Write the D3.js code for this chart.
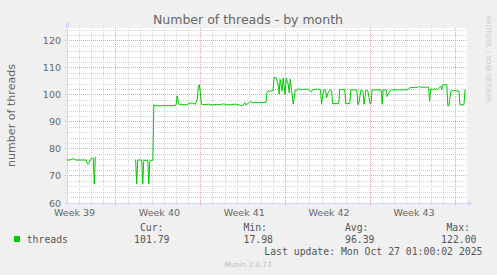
<!DOCTYPE html>
<html>
<head>
<meta charset="utf-8">
<script src="https://cdn.jsdelivr.net/npm/d3@7"></script>
<style>
  html, body { margin: 0; padding: 0; background: #f0f0f0; }
  svg { display: block; }
</style>
</head>
<body>
<div id="chart"></div>
<script>
// munin "threads" graph, month view (2h averages)
const title = "Number of threads - by month";
const yLabel = "number of threads";
const seriesName = "threads";
const startTime = "2025-09-23T23:00:00Z";
const endTime = "2025-10-26T23:00:00Z";

// hours since startTime, and the value (null = no data)
const hours = [
  0, 8, 10, 14, 18, 38, 40, 42, 44, 46, 48, 52, 54, 56, 58, 60,
  134, 136, 138, 140, 148, 150, 152, 160, 162, 164, 170, 172, 176, 180, 184, 188,
  194, 200, 206, 212, 216, 218, 222, 226, 232, 238, 244, 248, 254, 258, 260, 262,
  264, 266, 272, 280, 288, 296, 302, 310, 318, 326, 334, 342, 346, 350, 352, 354,
  358, 364, 368, 374, 382, 390, 394, 396, 398, 402, 406, 408, 410, 414, 418, 420,
  422, 426, 428, 432, 434, 438, 440, 442, 448, 452, 456, 458, 464, 466, 476, 484,
  486, 496, 502, 504, 508, 512, 514, 518, 522, 524, 526, 538, 540, 550, 552, 560,
  562, 574, 576, 578, 582, 586, 588, 592, 596, 598, 600, 602, 604, 622, 624, 626,
  632, 634, 636, 640, 642, 674, 676, 680, 688, 694, 696, 700, 716, 718, 720, 724,
  730, 734, 738, 740, 742, 744, 752, 754, 756, 760, 768, 776, 778, 786, 788, 790
];
const threads = [
  75.9, 76.0, 76.4, 76.2, 75.9, 75.9, 74.7, 74.3, 74.8, 76.0, 76.5, 76.6, 67.0, 76.9, 77.0, null,
  75.9, 75.9, 67.0, 75.9, 75.9, 67.0, 75.8, 75.8, 67.0, 75.6, 75.8, 96.4, 95.9, 96.2, 95.8, 96.1,
  96.0, 96.1, 96.0, 96.1, 96.3, 99.7, 96.4, 96.6, 96.3, 96.5, 97.0, 97.0, 96.6, 98.5, 103.0, 103.8,
  101.0, 96.6, 96.4, 96.6, 96.3, 96.5, 96.4, 96.7, 96.3, 96.5, 96.6, 96.3, 96.0, 96.5, 97.2, 96.4,
  96.8, 97.6, 97.1, 97.3, 97.2, 97.2, 97.3, 101.0, 101.5, 101.3, 101.7, 101.5, 106.5, 106.3, 104.0, 100.4,
  105.8, 101.5, 106.3, 100.0, 106.3, 104.0, 100.8, 105.9, 96.7, 101.9, 101.7, 102.3, 101.9, 102.0, 102.2, 101.2,
  101.9, 102.2, 101.9, 96.6, 101.9, 101.9, 99.0, 101.4, 101.9, 101.4, 96.8, 96.8, 102.0, 102.0, 96.8, 96.8,
  101.9, 101.9, 96.4, 97.0, 101.9, 101.4, 96.6, 101.9, 101.4, 99.0, 96.8, 96.8, 101.9, 101.9, 96.6, 101.9,
  101.9, 99.4, 100.3, 101.5, 101.9, 101.9, 102.4, 102.7, 102.8, 102.8, 103.1, 102.9, 102.9, 97.7, 102.2, 102.0,
  102.3, 102.0, 102.9, 103.2, 102.0, 103.8, 103.8, 96.0, 96.0, 101.4, 101.6, 101.4, 96.4, 96.4, 101.8, 101.8
];

const yTicks = [60, 70, 80, 90, 100, 110, 120];
const statLabels = ["Cur:", "Min:", "Avg:", "Max:"];
const statValues = ["101.79", "17.98", "96.39", "122.00"];
const lastUpdate = "Last update: Mon Oct 27 01:00:02 2025";
const footer = "Munin 2.0.73";
const watermark = "RRDTOOL / TOBI OETIKER";

const W = 497, H = 275;
const plot = { left: 67, right: 467, top: 28, bottom: 203 };
const green = "#00cc00";
const axisCol = "#cfd6f8";
const fontCol = "#666666";
const sans = "'DejaVu Sans', sans-serif";
const mono = "'DejaVu Sans Mono', monospace";

const t0 = new Date(startTime);
const data = hours.map((h, i) => ({ t: new Date(t0.getTime() + h * 3600e3), v: threads[i] }));

const x = d3.scaleUtc().domain([t0, new Date(endTime)]).range([plot.left, plot.right]);
const y = d3.scaleLinear().domain([60, 124.8]).range([plot.bottom, plot.top]);
const px = v => Math.floor(v) + 0.5;

const svg = d3.select("#chart").append("svg")
  .attr("width", W).attr("height", H)
  .style("background", "#f0f0f0");

svg.append("rect")
  .attr("x", plot.left).attr("y", plot.top)
  .attr("width", plot.right - plot.left).attr("height", plot.bottom - plot.top)
  .attr("fill", "#ffffff");

// grid, dotted 1 on 1 off like rrdtool
const grid = svg.append("g").attr("stroke-dasharray", "1,1").attr("stroke-width", 1);
const minorY = d3.range(62, 125, 2).filter(v => v % 10 !== 0);
const days = d3.utcDay.range(x.domain()[0], x.domain()[1]).filter(d => d.getUTCDay() !== 0);
const sundays = d3.utcSunday.range(x.domain()[0], x.domain()[1]);

grid.append("g").attr("stroke", "#d4d4d4")
  .selectAll("line").data(minorY).join("line")
  .attr("x1", plot.left - 2).attr("x2", plot.right)
  .attr("y1", d => px(y(d))).attr("y2", d => px(y(d)));
grid.append("g").attr("stroke", "#d4d4d4")
  .selectAll("line").data(days).join("line")
  .attr("x1", d => px(x(d))).attr("x2", d => px(x(d)))
  .attr("y1", plot.top).attr("y2", plot.bottom + 2);
grid.append("g").attr("stroke", "#eba0a0")
  .selectAll("line").data(yTicks).join("line")
  .attr("x1", plot.left - 2).attr("x2", plot.right)
  .attr("y1", d => px(y(d))).attr("y2", d => px(y(d)));
grid.append("g").attr("stroke", "#eba0a0")
  .selectAll("line").data(sundays).join("line")
  .attr("x1", d => px(x(d))).attr("x2", d => px(x(d)))
  .attr("y1", plot.top).attr("y2", plot.bottom + 2);

// y labels
svg.append("g").selectAll("text").data(yTicks).join("text")
  .attr("x", 61).attr("y", d => y(d) + 3.5)
  .attr("text-anchor", "end")
  .attr("font-family", sans).attr("font-size", 9.5).attr("fill", fontCol)
  .text(d => d);

// x labels: "Week N" centred in the middle of each week
const weekFmt = d3.utcFormat("%V");
const labelWeeks = d3.utcSunday.range(d3.utcSunday.offset(x.domain()[0], -1), x.domain()[1])
  .map(d => d3.utcHour.offset(d, 84))
  .filter(d => d >= x.domain()[0] && d <= x.domain()[1]);
svg.append("g").selectAll("text").data(labelWeeks).join("text")
  .attr("x", d => x(d) + 1).attr("y", 215.7)
  .attr("text-anchor", "middle")
  .attr("font-family", sans).attr("font-size", 9.5).attr("fill", fontCol)
  .text(d => "Week " + weekFmt(d));

// axes + arrows
svg.append("line")
  .attr("x1", plot.left + 0.5).attr("x2", plot.left + 0.5)
  .attr("y1", plot.bottom + 2).attr("y2", 25)
  .attr("stroke", axisCol);
svg.append("line")
  .attr("x1", plot.left - 2).attr("x2", 470)
  .attr("y1", plot.bottom + 0.5).attr("y2", plot.bottom + 0.5)
  .attr("stroke", axisCol);
svg.append("path")
  .attr("d", `M${plot.left - 2},27 L${plot.left + 0.5},21.5 L${plot.left + 3},27 Z`)
  .attr("fill", axisCol);
svg.append("path")
  .attr("d", `M468,${plot.bottom - 2} L473.5,${plot.bottom + 0.5} L468,${plot.bottom + 3} Z`)
  .attr("fill", axisCol);

// series
const line = d3.line()
  .defined(d => d.v !== null)
  .x(d => x(d.t))
  .y(d => y(d.v));
svg.append("path")
  .datum(data)
  .attr("d", line)
  .attr("fill", "none")
  .attr("stroke", green)
  .attr("stroke-width", 1);

// title, axis title, watermark
svg.append("text")
  .attr("x", 248).attr("y", 24)
  .attr("text-anchor", "middle")
  .attr("font-family", sans).attr("font-size", 12.5).attr("fill", fontCol)
  .text(title);

svg.append("text")
  .attr("transform", `translate(15,${(plot.top + plot.bottom) / 2}) rotate(-90)`)
  .attr("text-anchor", "middle")
  .attr("font-family", sans).attr("font-size", 11.1).attr("fill", fontCol)
  .text(yLabel);

svg.append("text")
  .attr("transform", "translate(486,15) rotate(90)")
  .attr("font-family", sans).attr("font-size", 6.8).attr("fill", "#c8c8c8")
  .text(watermark);

// legend
const legend = svg.append("g").attr("font-family", mono).attr("font-size", 9.8).attr("fill", "#555555");
const headRight = [163.5, 267, 368.5, 470];
const valRight = [169.5, 273, 374.5, 476.5];
legend.selectAll(".head").data(statLabels).join("text")
  .attr("x", (d, i) => headRight[i]).attr("y", 231)
  .attr("text-anchor", "end").text(d => d);
legend.selectAll(".val").data(statValues).join("text")
  .attr("x", (d, i) => valRight[i]).attr("y", 242.7)
  .attr("text-anchor", "end").text(d => d);
legend.append("rect")
  .attr("x", 14).attr("y", 236).attr("width", 6).attr("height", 6)
  .attr("fill", green);
legend.append("text").attr("x", 26.7).attr("y", 242.7).text(seriesName);
legend.append("text").attr("x", 482.5).attr("y", 255).attr("text-anchor", "end").text(lastUpdate);

svg.append("text")
  .attr("x", 248).attr("y", 267)
  .attr("text-anchor", "middle")
  .attr("font-family", sans).attr("font-size", 7.2).attr("fill", "#bbbbbb")
  .text(footer);
</script>
</body>
</html>
